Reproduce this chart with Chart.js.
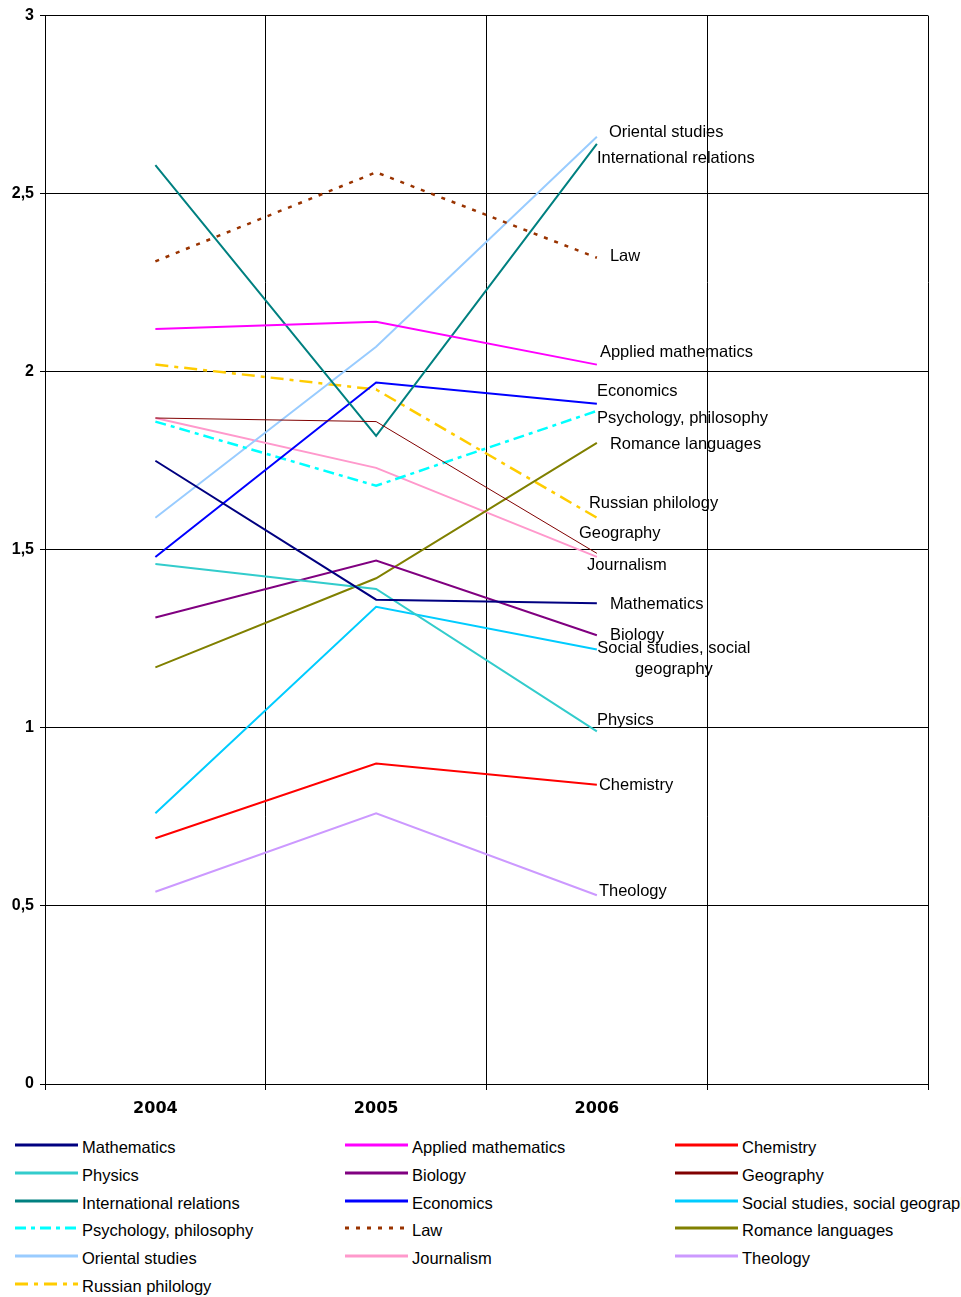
<!DOCTYPE html>
<html>
<head>
<meta charset="utf-8">
<script src="https://cdn.jsdelivr.net/npm/chart.js@4/dist/chart.umd.min.js"></script>
<style>
  body { margin: 0; background: #fff; font-family: "Liberation Sans", Arial, sans-serif; }
  #wrap { position: relative; width: 961px; height: 1297px; overflow: hidden; }
  #chartBox { position: absolute; left: 0; top: 0; width: 961px; height: 1125px; }
  #legend { position: absolute; left: 0; top: 1135px; width: 961px; }
  .lg-item { position: absolute; height: 26px; white-space: nowrap; font-size: 16.5px; color: #000; }
  .lg-item svg { position: absolute; left: 0; top: 7px; }
  .lg-item span { position: absolute; left: 67px; top: 3px; }
</style>
</head>
<body>
<div id="wrap">
  <div id="chartBox"><canvas id="chart"></canvas></div>
  <div id="legend"></div>
</div>
<script>
// DATA
const years = ['2004', '2005', '2006', ''];
const seriesNames = [
  'Mathematics', 'Applied mathematics', 'Chemistry',
  'Physics', 'Biology', 'Geography',
  'International relations', 'Economics', 'Social studies, social geography',
  'Psychology, philosophy', 'Law', 'Romance languages',
  'Oriental studies', 'Journalism', 'Theology',
  'Russian philology'
];
const mathematics      = [1.75, 1.36, 1.35];
const appliedMath      = [2.12, 2.14, 2.02];
const chemistry        = [0.69, 0.90, 0.84];
const physics          = [1.46, 1.39, 0.99];
const biology          = [1.31, 1.47, 1.26];
const geography        = [1.87, 1.86, 1.49];
const intRelations     = [2.58, 1.82, 2.64];
const economics        = [1.48, 1.97, 1.91];
const socialStudies    = [0.76, 1.34, 1.22];
const psychology       = [1.86, 1.68, 1.89];
const law              = [2.31, 2.56, 2.32];
const romanceLanguages = [1.17, 1.42, 1.80];
const orientalStudies  = [1.59, 2.07, 2.66];
const journalism       = [1.87, 1.73, 1.48];
const theology         = [0.54, 0.76, 0.53];
const russianPhilology = [2.02, 1.95, 1.59];
const yTicks = [0, 0.5, 1, 1.5, 2, 2.5, 3];

const seriesValues = [
  mathematics, appliedMath, chemistry, physics, biology, geography,
  intRelations, economics, socialStudies, psychology, law, romanceLanguages,
  orientalStudies, journalism, theology, russianPhilology
];

// STYLES
const colors = [
  '#000080', '#FF00FF', '#FF0000', '#33CCCC', '#800080', '#800000',
  '#008080', '#0000FF', '#00CCFF', '#00FFFF', '#993300', '#808000',
  '#99CCFF', '#FF99CC', '#CC99FF', '#FFCC00'
];
const widths = [2, 2, 2, 2, 2, 1, 2, 2, 2, 2.5, 2.5, 2, 2, 2, 2, 2.5];
const dashes = {
  9: [11, 5, 4, 5],
  10: [4, 7],
  15: [13, 6, 4, 6]
};
// end labels: offset from the 2006 point (dx, dy)
const endLabels = [
  { dx: 13, dy: 1 },              // Mathematics
  { dx: 3, dy: -12 },             // Applied mathematics
  { dx: 2, dy: 1 },               // Chemistry
  { dx: 0, dy: -11 },             // Physics
  { dx: 13, dy: 0 },              // Biology
  { dx: -18, dy: -20 },           // Geography
  { dx: 0, dy: 15 },              // International relations
  { dx: 0, dy: -12 },             // Economics
  { dx: 77, dy: -1, center: true, lines: ['Social studies, social', 'geography'] },
  { dx: 0, dy: 8 },               // Psychology
  { dx: 13, dy: -1 },             // Law
  { dx: 13, dy: 1 },              // Romance
  { dx: 12, dy: -4 },             // Oriental
  { dx: -10, dy: 9 },             // Journalism
  { dx: 2, dy: -4 },              // Theology
  { dx: -8, dy: -14 }             // Russian philology
];

const FONT = '"Liberation Sans", Arial, sans-serif';

const endLabelPlugin = {
  id: 'endLabels',
  afterDatasetsDraw(chart) {
    const ctx = chart.ctx;
    ctx.save();
    ctx.font = '16.5px ' + FONT;
    ctx.fillStyle = '#000';
    ctx.textBaseline = 'middle';
    chart.data.datasets.forEach((ds, i) => {
      const meta = chart.getDatasetMeta(i);
      const pt = meta.data[2];
      const lab = endLabels[i];
      const lines = lab.lines || [ds.label];
      ctx.textAlign = lab.center ? 'center' : 'left';
      lines.forEach((t, k) => {
        ctx.fillText(t, pt.x + lab.dx, pt.y + lab.dy + k * 21);
      });
    });
    ctx.restore();
  }
};

const datasets = seriesNames.map((name, i) => ({
  label: name,
  data: seriesValues[i],
  borderColor: colors[i],
  backgroundColor: colors[i],
  borderWidth: widths[i],
  borderDash: dashes[i] || [],
  pointRadius: 0,
  tension: 0,
  fill: false
}));

new Chart(document.getElementById('chart'), {
  type: 'line',
  data: { labels: years, datasets: datasets },
  options: {
    responsive: true,
    maintainAspectRatio: false,
    animation: false,
    layout: { padding: { top: 15, right: 33, left: 0, bottom: 0 } },
    plugins: { legend: { display: false }, tooltip: { enabled: false } },
    scales: {
      x: {
        offset: true,
        grid: { offset: true, color: '#000', lineWidth: 1, tickLength: 6, drawTicks: true },
        border: { color: '#000', width: 1 },
        ticks: { color: '#000', font: { family: '"DejaVu Sans", sans-serif', size: 16, weight: 'bold' }, padding: 9, autoSkip: false, maxRotation: 0 },
        afterFit(scale) { scale.height = 41; }
      },
      y: {
        min: 0, max: 3,
        afterBuildTicks(scale) { scale.ticks = yTicks.map(v => ({ value: v })); },
        grid: { color: '#000', lineWidth: 1, tickLength: 5 },
        border: { color: '#000', width: 1 },
        ticks: {
          color: '#000', font: { family: FONT, size: 16, weight: 'bold' }, padding: 6,
          callback: v => String(v).replace('.', ',')
        },
        afterFit(scale) { scale.width = 45; }
      }
    }
  },
  plugins: [endLabelPlugin]
});

// LEGEND (3 columns)
const legend = document.getElementById('legend');
const colX = [15, 345, 675];
seriesNames.forEach((name, i) => {
  const item = document.createElement('div');
  item.className = 'lg-item';
  item.style.left = colX[i % 3] + 'px';
  item.style.top = (Math.floor(i / 3) * 27.8) + 'px';
  const dash = dashes[i] ? dashes[i].join(' ') : '';
  item.innerHTML =
    '<svg width="64" height="6"><line x1="0" y1="3" x2="63" y2="3" stroke="' + colors[i] +
    '" stroke-width="3"' + (dash ? ' stroke-dasharray="' + dash + '"' : '') + '/></svg>' +
    '<span>' + name + '</span>';
  legend.appendChild(item);
});
</script>
</body>
</html>
